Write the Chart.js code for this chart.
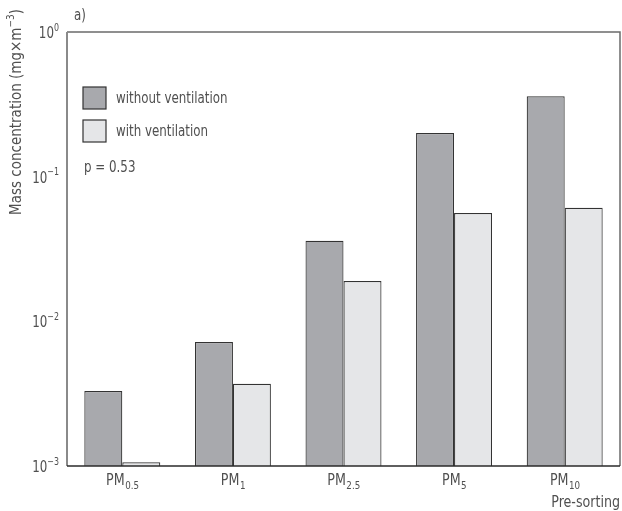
<!DOCTYPE html>
<html>
<head>
<meta charset="utf-8">
<script src="https://cdn.jsdelivr.net/npm/chart.js@4.4.1/dist/chart.umd.min.js"></script>
<style>
  html, body { margin: 0; padding: 0; background: #fff; }
  #wrap { width: 622px; height: 511px; }
</style>
</head>
<body>
<div id="wrap"><canvas id="massChart" width="622" height="511"></canvas></div>
<script>
// ─── Data ───────────────────────────────────────────────────────────────────
const categories = ['0.5', '1', '2.5', '5', '10'];          // PM subscripts
const withoutVentilation = [0.0033, 0.0072, 0.036, 0.20, 0.36];
const withVentilation    = [0.00106, 0.0037, 0.019, 0.056, 0.061];
const yTicks = [1, 0.1, 0.01, 0.001];
const yTickExponents = ['0', '\u22121', '\u22122', '\u22123'];

const FONT = '"Liberation Sans Narrow", "DejaVu Sans Condensed", "Liberation Sans", sans-serif';
const TEXT = '#505050';
const SQUEEZE = 0.88;   // horizontal squeeze to mimic the narrow figure font

// width of a string once squeezed
function textW(ctx, s, size, sq) {
    ctx.font = size + 'px ' + FONT;
    return ctx.measureText(s).width * (sq || SQUEEZE);
}
// draw left-aligned squeezed text
function put(ctx, s, x, y, size, sq) {
    ctx.save();
    ctx.font = size + 'px ' + FONT;
    ctx.textAlign = 'left';
    ctx.textBaseline = 'middle';
    ctx.translate(x, y);
    ctx.scale(sq || SQUEEZE, 1);
    ctx.fillText(s, 0, 0);
    ctx.restore();
}

// ─── Axes, frame, labels and legend drawn around the library's scales ───────
const decorPlugin = {
    id: 'decor',
    afterDraw(chart) {
        const ctx = chart.ctx;
        const area = chart.chartArea;
        const x = chart.scales.x;
        const y = chart.scales.y;
        ctx.save();

        // frame: top and right
        ctx.strokeStyle = '#6b6b6b';
        ctx.lineWidth = 1.5;
        ctx.beginPath();
        ctx.moveTo(area.left, area.top);
        ctx.lineTo(area.right, area.top);
        ctx.lineTo(area.right, area.bottom);
        ctx.stroke();
        // left axis
        ctx.strokeStyle = '#8a8a8a';
        ctx.lineWidth = 2;
        ctx.beginPath();
        ctx.moveTo(area.left, area.top);
        ctx.lineTo(area.left, area.bottom);
        ctx.stroke();
        // bottom axis
        ctx.strokeStyle = '#2a2a2a';
        ctx.lineWidth = 1.5;
        ctx.beginPath();
        ctx.moveTo(area.left, area.bottom);
        ctx.lineTo(area.right, area.bottom);
        ctx.stroke();

        ctx.fillStyle = TEXT;

        // y tick labels 10^n
        yTicks.forEach(function (v, i) {
            const py = y.getPixelForValue(v) + 2;
            const supW = textW(ctx, yTickExponents[i], 10);
            const baseW = textW(ctx, '10', 15);
            put(ctx, yTickExponents[i], 59 - supW, py - 6, 10);
            put(ctx, '10', 59 - supW - baseW, py, 15);
        });

        // x labels PM_sub
        categories.forEach(function (c, i) {
            const px = x.getPixelForValue(i);
            const w1 = textW(ctx, 'PM', 16);
            const w2 = textW(ctx, c, 11);
            const startX = px - (w1 + w2) / 2;
            put(ctx, 'PM', startX, area.bottom + 15, 16);
            put(ctx, c, startX + w1 + 0.5, area.bottom + 20, 11);
        });
        put(ctx, 'Pre-sorting', area.right - textW(ctx, 'Pre-sorting', 16), area.bottom + 37, 16);

        // y axis title
        ctx.save();
        ctx.translate(17, 112);
        ctx.rotate(-Math.PI / 2);
        const tMain = 'Mass concentration (mg\u00d7m';
        const wMain = textW(ctx, tMain, 15, 1);
        const wSup = textW(ctx, '\u22123', 10, 1);
        const wPar = textW(ctx, ')', 15, 1);
        const sx = -(wMain + wSup + wPar) / 2;
        put(ctx, tMain, sx, 0, 15, 1);
        put(ctx, '\u22123', sx + wMain, -6, 10, 1);
        put(ctx, ')', sx + wMain + wSup, 0, 15, 1);
        ctx.restore();

        // panel label
        put(ctx, 'a)', 74, 16, 15);

        // legend
        chart.data.datasets.forEach(function (ds, i) {
            const by = 87 + i * 33;
            ctx.fillStyle = ds.backgroundColor;
            ctx.fillRect(83, by, 23, 22);
            ctx.strokeStyle = '#333';
            ctx.lineWidth = 1.2;
            ctx.strokeRect(83, by, 23, 22);
            ctx.fillStyle = TEXT;
            put(ctx, ds.label, 116, by + 12, 15);
        });
        put(ctx, 'p = 0.53', 84, 168, 15);

        ctx.restore();
    }
};

new Chart(document.getElementById('massChart'), {
    type: 'bar',
    data: {
        labels: categories.map(function (c) { return 'PM' + c; }),
        datasets: [{
            label: 'without ventilation',
            data: withoutVentilation,
            backgroundColor: '#a8a9ad',
            borderColor: '#333333',
            borderWidth: 1.2,
            borderSkipped: 'bottom'
        }, {
            label: 'with ventilation',
            data: withVentilation,
            backgroundColor: '#e5e6e8',
            borderColor: '#333333',
            borderWidth: 1.2,
            borderSkipped: 'bottom'
        }]
    },
    options: {
        responsive: false,
        animation: false,
        layout: { padding: { left: 67, top: 32, right: 2, bottom: 45 } },
        categoryPercentage: 0.687,
        barPercentage: 1.0,
        plugins: { legend: { display: false }, tooltip: { enabled: false } },
        scales: {
            x: { display: false, grid: { display: false } },
            y: {
                type: 'logarithmic',
                display: false,
                min: 0.001,
                max: 1,
                grid: { display: false }
            }
        }
    },
    plugins: [decorPlugin]
});
</script>
</body>
</html>
